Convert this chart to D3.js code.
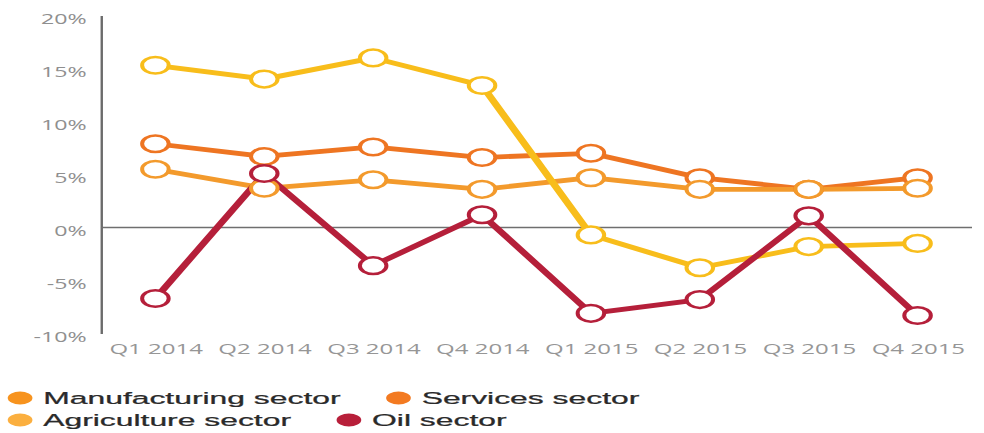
<!DOCTYPE html>
<html>
<head>
<meta charset="utf-8">
<script src="https://cdn.jsdelivr.net/npm/d3@7"></script>
<style>
  html, body { margin: 0; padding: 0; background: #fff; }
  svg { display: block; }
</style>
</head>
<body>
<svg id="chart" width="984" height="433"></svg>
<script>
// Quarterly growth by sector, 2014–2015 (percent)
const quarters = ["Q1 2014", "Q2 2014", "Q3 2014", "Q4 2014", "Q1 2015", "Q2 2015", "Q3 2015", "Q4 2015"];
const manufacturing = [5.5, 3.7, 4.5, 3.6, 4.7, 3.6, 3.6, 3.7];
const services      = [7.9, 6.7, 7.6, 6.6, 7.0, 4.7, 3.6, 4.7];
const agriculture   = [15.3, 14.0, 16.0, 13.4, -0.7, -3.8, -1.8, -1.5];
const oil           = [-6.7, 5.1, -3.6, 1.2, -8.1, -6.8, 1.1, -8.3];
const yTicks = [-10, -5, 0, 5, 10, 15, 20];

const series = [
  { name: "Services sector",      values: services,      line: "#ee7522", key: "#f37a21" },
  { name: "Manufacturing sector", values: manufacturing, line: "#f39a2c", key: "#f7931e" },
  { name: "Agriculture sector",   values: agriculture,   line: "#f8bd1b", key: "#fbaf3f" },
  { name: "Oil sector",           values: oil,           line: "#b51f3a", key: "#b81f3a" }
];
const legendRows = [
  ["Manufacturing sector", "Services sector"],
  ["Agriculture sector", "Oil sector"]
];

const svg = d3.select("#chart");

// The whole plot is drawn in a horizontally widened frame
const sx = 1.6;
const plot = svg.append("g").attr("transform", `scale(${sx},1)`);

const x = d3.scalePoint().domain(quarters).range([63.1, 607.5]).padding(0.5);
const y = d3.scaleLinear().domain([-10, 20]).range([333.5, 15.5]);

// Y axis
const yAxis = plot.append("g")
  .attr("transform", `translate(${x.range()[0]},0)`)
  .call(d3.axisLeft(y).tickValues(yTicks).tickSize(0).tickPadding(9).tickFormat(d => d + "%"));
yAxis.select(".domain").attr("stroke", "#6b6b6b").attr("stroke-width", 1.5);
yAxis.selectAll("text")
  .attr("font-family", "'Open Sans', sans-serif")
  .attr("font-size", 14.5)
  .attr("fill", "#8f8f8f")
  .attr("dy", "0.55em");

// Zero baseline
plot.append("line")
  .attr("x1", x.range()[0]).attr("x2", x.range()[1])
  .attr("y1", y(0)).attr("y2", y(0))
  .attr("stroke", "#6f6f6f").attr("stroke-width", 1.5);

// X axis labels
const xAxis = plot.append("g")
  .attr("transform", `translate(0,${y(-10)})`)
  .call(d3.axisBottom(x).tickSize(0).tickPadding(10));
xAxis.select(".domain").remove();
xAxis.selectAll("text")
  .attr("font-family", "'Open Sans', sans-serif")
  .attr("font-size", 15)
  .attr("fill", "#969696");

// Lines
const line = d3.line().x((d, i) => x(quarters[i])).y(d => y(d));
plot.append("g").selectAll("path")
  .data(series)
  .join("path")
  .attr("d", s => line(s.values))
  .attr("fill", "none")
  .attr("stroke", s => s.line)
  .attr("stroke-width", 4.8)
  .attr("stroke-linejoin", "round");

// Hollow point markers on top of all lines
plot.append("g").selectAll("g")
  .data(series)
  .join("g")
  .each(function (s) {
    d3.select(this).selectAll("circle")
      .data(s.values)
      .join("circle")
      .attr("cx", (d, i) => x(quarters[i]))
      .attr("cy", d => y(d))
      .attr("r", 8.3)
      .attr("fill", "#fff")
      .attr("stroke", s.line)
      .attr("stroke-width", 2.5);
  });

// Legend, flowed in two rows
const lx = 1.93;
const legend = svg.append("g").attr("transform", `scale(${lx},1)`);
const rowY = [398, 420];
const byName = new Map(series.map(s => [s.name, s]));
legendRows.forEach((row, r) => {
  let cx = 10.4;
  row.forEach(name => {
    const s = byName.get(name);
    const item = legend.append("g").attr("transform", `translate(${cx},${rowY[r]})`);
    item.append("circle").attr("r", 6.4).attr("fill", s.key);
    const t = item.append("text")
      .attr("x", 12)
      .attr("y", 6)
      .attr("font-family", "'Liberation Sans', Arial, sans-serif")
      .attr("font-size", 16.5)
      .attr("fill", "#2a2a2a")
      .attr("stroke", "#2a2a2a")
      .attr("stroke-width", 0.25)
      .text(name);
    cx += 12 + t.node().getComputedTextLength() + 30;
  });
});
</script>
</body>
</html>
